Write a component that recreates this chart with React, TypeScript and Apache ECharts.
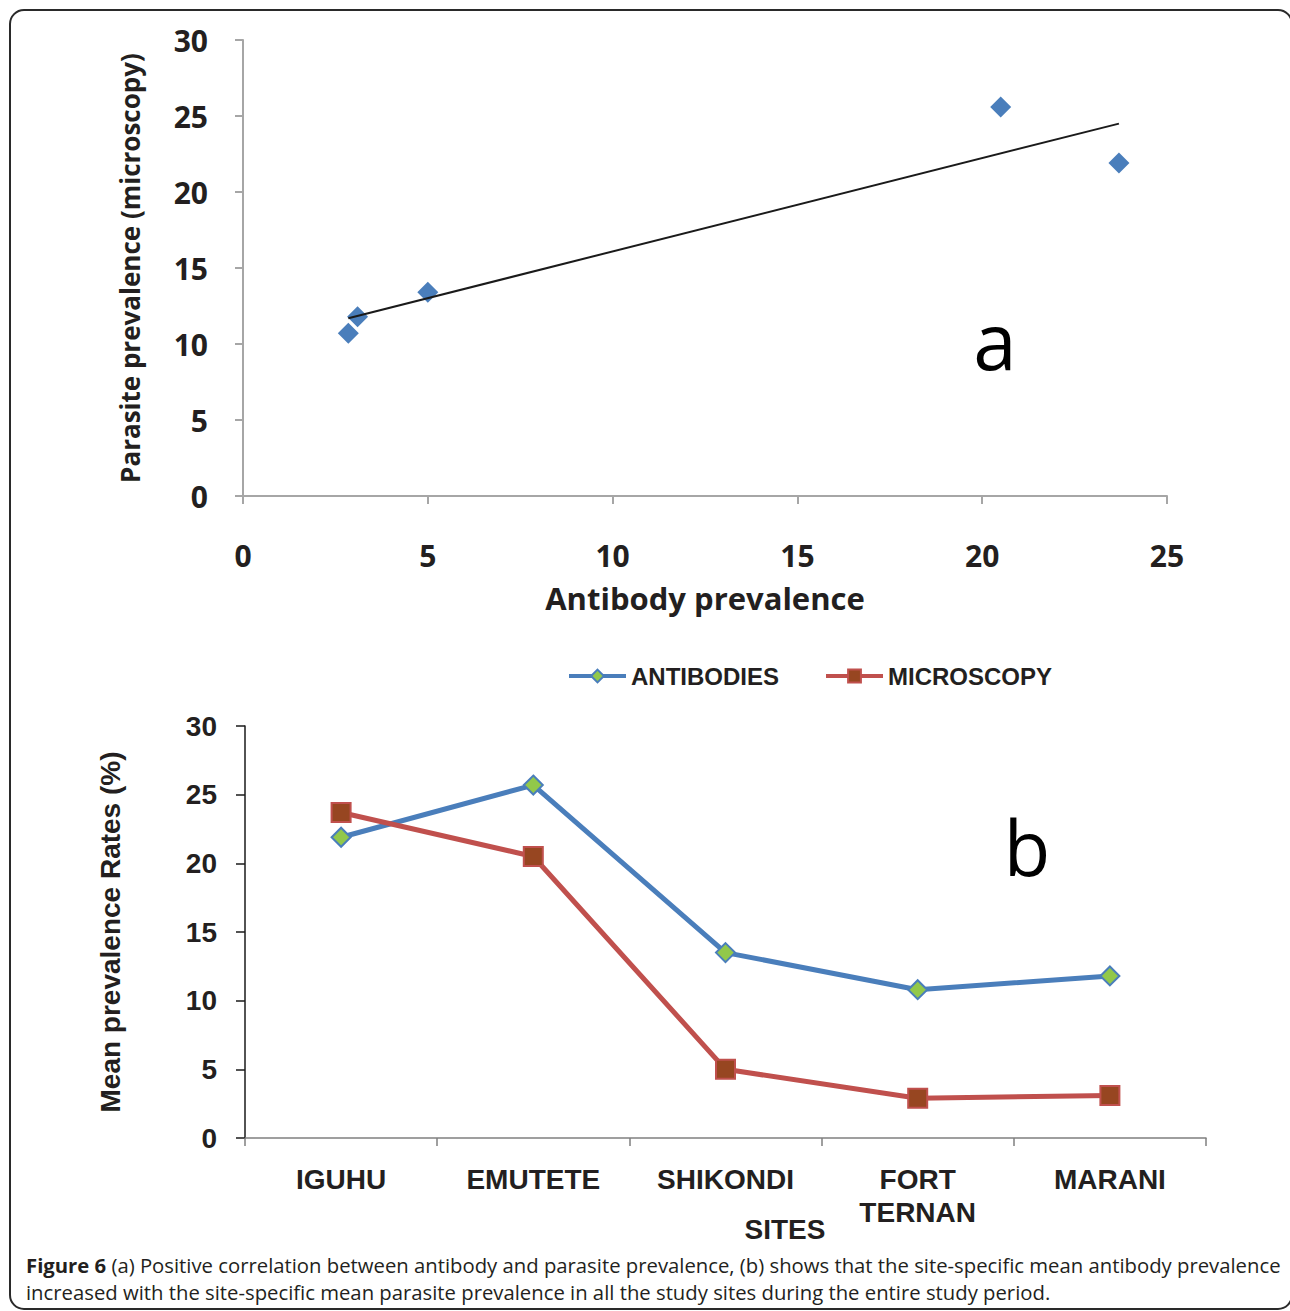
import React, { useEffect, useRef } from "react";
import * as echarts from "echarts";

// Panel (a): scatter of antibody prevalence vs parasite prevalence
const scatterPoints: [number, number][] = [
  [2.85, 10.7],
  [3.1, 11.8],
  [5.0, 13.4],
  [20.5, 25.6],
  [23.7, 21.9],
];
const trendLine: [number, number][] = [
  [2.85, 11.7],
  [23.7, 24.5],
];
const xTicksA = [0, 25, 5];
const yTicksA = [0, 30, 5];

// Panel (b): mean prevalence per site
const sites = ["IGUHU", "EMUTETE", "SHIKONDI", "FORT\nTERNAN", "MARANI"];
const antibodies = [21.9, 25.7, 13.5, 10.8, 11.8];
const microscopy = [23.7, 20.5, 5.0, 2.9, 3.1];
const yTicksB = [0, 30, 5];

const captionLine1 = "(a) Positive correlation between antibody and parasite prevalence, (b) shows that the site-specific mean antibody prevalence";
const captionLine2 = "increased with the site-specific mean parasite prevalence in all the study sites during the entire study period.";

const OPEN = "'Open Sans', 'Noto Sans', sans-serif";
const ARIAL = "'Liberation Sans', Arial, sans-serif";
const INK = "#231f20";

export default function App() {
  const ref = useRef<HTMLDivElement>(null);
  useEffect(() => {
    if (!ref.current) return;
    const chart = echarts.init(ref.current, undefined, { renderer: "svg" });
    chart.setOption({
      animation: false,
      backgroundColor: "#ffffff",
      grid: [
        { left: 243, top: 40, width: 924, height: 456 },
        { left: 245, top: 726, width: 961, height: 412 },
      ],
      legend: {
        data: ["ANTIBODIES", "MICROSCOPY"],
        left: 567,
        top: 664,
        padding: 0,
        itemWidth: 57,
        itemHeight: 16,
        itemGap: 45,
        lineStyle: { width: 4 },
        textStyle: { fontFamily: ARIAL, fontSize: 24, fontWeight: "bold", color: INK },
      },
      xAxis: [
        {
          gridIndex: 0,
          type: "value",
          min: xTicksA[0],
          max: xTicksA[1],
          interval: xTicksA[2],
          splitLine: { show: false },
          axisLine: { lineStyle: { color: "#a6a6a6", width: 2 } },
          axisTick: { show: true, inside: false, length: 8, lineStyle: { color: "#a6a6a6", width: 2 } },
          axisLabel: { margin: 44, fontFamily: OPEN, fontSize: 30, fontWeight: "bold", color: INK },
          name: "Antibody prevalence",
          nameLocation: "middle",
          nameGap: 86,
          nameTextStyle: { fontFamily: OPEN, fontSize: 31, fontWeight: "bold", color: INK },
        },
        {
          gridIndex: 1,
          type: "category",
          data: sites,
          boundaryGap: true,
          axisLine: { lineStyle: { color: "#7f7f7f", width: 1.5 } },
          axisTick: { show: true, inside: false, length: 8, interval: 0, lineStyle: { color: "#7f7f7f", width: 1.5 } },
          axisLabel: {
            interval: 0,
            margin: 25,
            fontFamily: ARIAL,
            fontSize: 28,
            fontWeight: "bold",
            color: INK,
            lineHeight: 33,
          },
        },
      ],
      yAxis: [
        {
          gridIndex: 0,
          type: "value",
          min: yTicksA[0],
          max: yTicksA[1],
          interval: yTicksA[2],
          splitLine: { show: false },
          axisLine: { show: true, lineStyle: { color: "#a6a6a6", width: 2 } },
          axisTick: { show: true, inside: false, length: 8, lineStyle: { color: "#a6a6a6", width: 2 } },
          axisLabel: { margin: 35, fontFamily: OPEN, fontSize: 30, fontWeight: "bold", color: INK },
          name: "Parasite prevalence (microscopy)",
          nameLocation: "middle",
          nameGap: 100,
          nameTextStyle: { fontFamily: OPEN, fontSize: 26, fontWeight: "bold", color: INK },
        },
        {
          gridIndex: 1,
          type: "value",
          min: yTicksB[0],
          max: yTicksB[1],
          interval: yTicksB[2],
          splitLine: { show: false },
          axisLine: { show: true, lineStyle: { color: "#1a1a1a", width: 1.5 } },
          axisTick: { show: true, inside: false, length: 9, lineStyle: { color: "#1a1a1a", width: 1.5 } },
          axisLabel: { margin: 28, fontFamily: ARIAL, fontSize: 28, fontWeight: "bold", color: INK },
          name: "Mean prevalence Rates (%)",
          nameLocation: "middle",
          nameGap: 121,
          nameTextStyle: { fontFamily: ARIAL, fontSize: 28, fontWeight: "bold", color: INK },
        },
      ],
      series: [
        {
          type: "scatter",
          xAxisIndex: 0,
          yAxisIndex: 0,
          data: scatterPoints,
          symbol: "diamond",
          symbolSize: 21,
          itemStyle: { color: "#4a7ebb", opacity: 1 },
          z: 3,
        },
        {
          type: "line",
          xAxisIndex: 0,
          yAxisIndex: 0,
          data: trendLine,
          showSymbol: false,
          symbol: "none",
          lineStyle: { color: "#1a1a1a", width: 2 },
          z: 4,
        },
        {
          name: "ANTIBODIES",
          type: "line",
          xAxisIndex: 1,
          yAxisIndex: 1,
          data: antibodies,
          symbol: "diamond",
          symbolSize: 19,
          lineStyle: { color: "#4a7ebb", width: 5 },
          itemStyle: { color: "#92c84a", borderColor: "#4a7ebb", borderWidth: 2 },
          z: 3,
        },
        {
          name: "MICROSCOPY",
          type: "line",
          xAxisIndex: 1,
          yAxisIndex: 1,
          data: microscopy,
          symbol: "rect",
          symbolSize: 19,
          lineStyle: { color: "#c0504d", width: 5 },
          itemStyle: { color: "#974621", borderColor: "#c0504d", borderWidth: 2 },
          z: 4,
        },
      ],
      graphic: [
        {
          type: "rect",
          shape: { x: 10, y: 10, width: 1282, height: 1299, r: 14 },
          style: { fill: "none", stroke: "#2a2a2a", lineWidth: 2 },
          silent: true,
        },
        {
          type: "text",
          x: 995,
          y: 340,
          style: { text: "a", fontFamily: OPEN, fontSize: 78, fill: "#000", align: "center", verticalAlign: "middle" },
        },
        {
          type: "text",
          x: 1027,
          y: 846,
          style: { text: "b", fontFamily: OPEN, fontSize: 76, fill: "#000", align: "center", verticalAlign: "middle" },
        },
        {
          type: "text",
          x: 785,
          y: 1229,
          style: { text: "SITES", fontFamily: ARIAL, fontSize: 28, fontWeight: "bold", fill: INK, align: "center", verticalAlign: "middle" },
        },
        {
          type: "text",
          x: 26,
          y: 1265,
          style: {
            text: "{b|Figure 6} {n|" + captionLine1 + "}",
            rich: {
              b: { fontFamily: OPEN, fontSize: 20.3, fontWeight: "bold", fill: INK },
              n: { fontFamily: OPEN, fontSize: 20.3, fill: INK },
            },
            fontFamily: OPEN,
            fontSize: 20.3,
            verticalAlign: "middle",
          },
        },
        {
          type: "text",
          x: 26,
          y: 1292,
          style: { text: captionLine2, fontFamily: OPEN, fontSize: 20.3, fill: INK, verticalAlign: "middle" },
        },
      ],
    });
    return () => chart.dispose();
  }, []);
  return (
    <div
      ref={ref}
      style={{ position: "absolute", left: 0, top: 0, width: 1290, height: 1311 }}
    />
  );
}
